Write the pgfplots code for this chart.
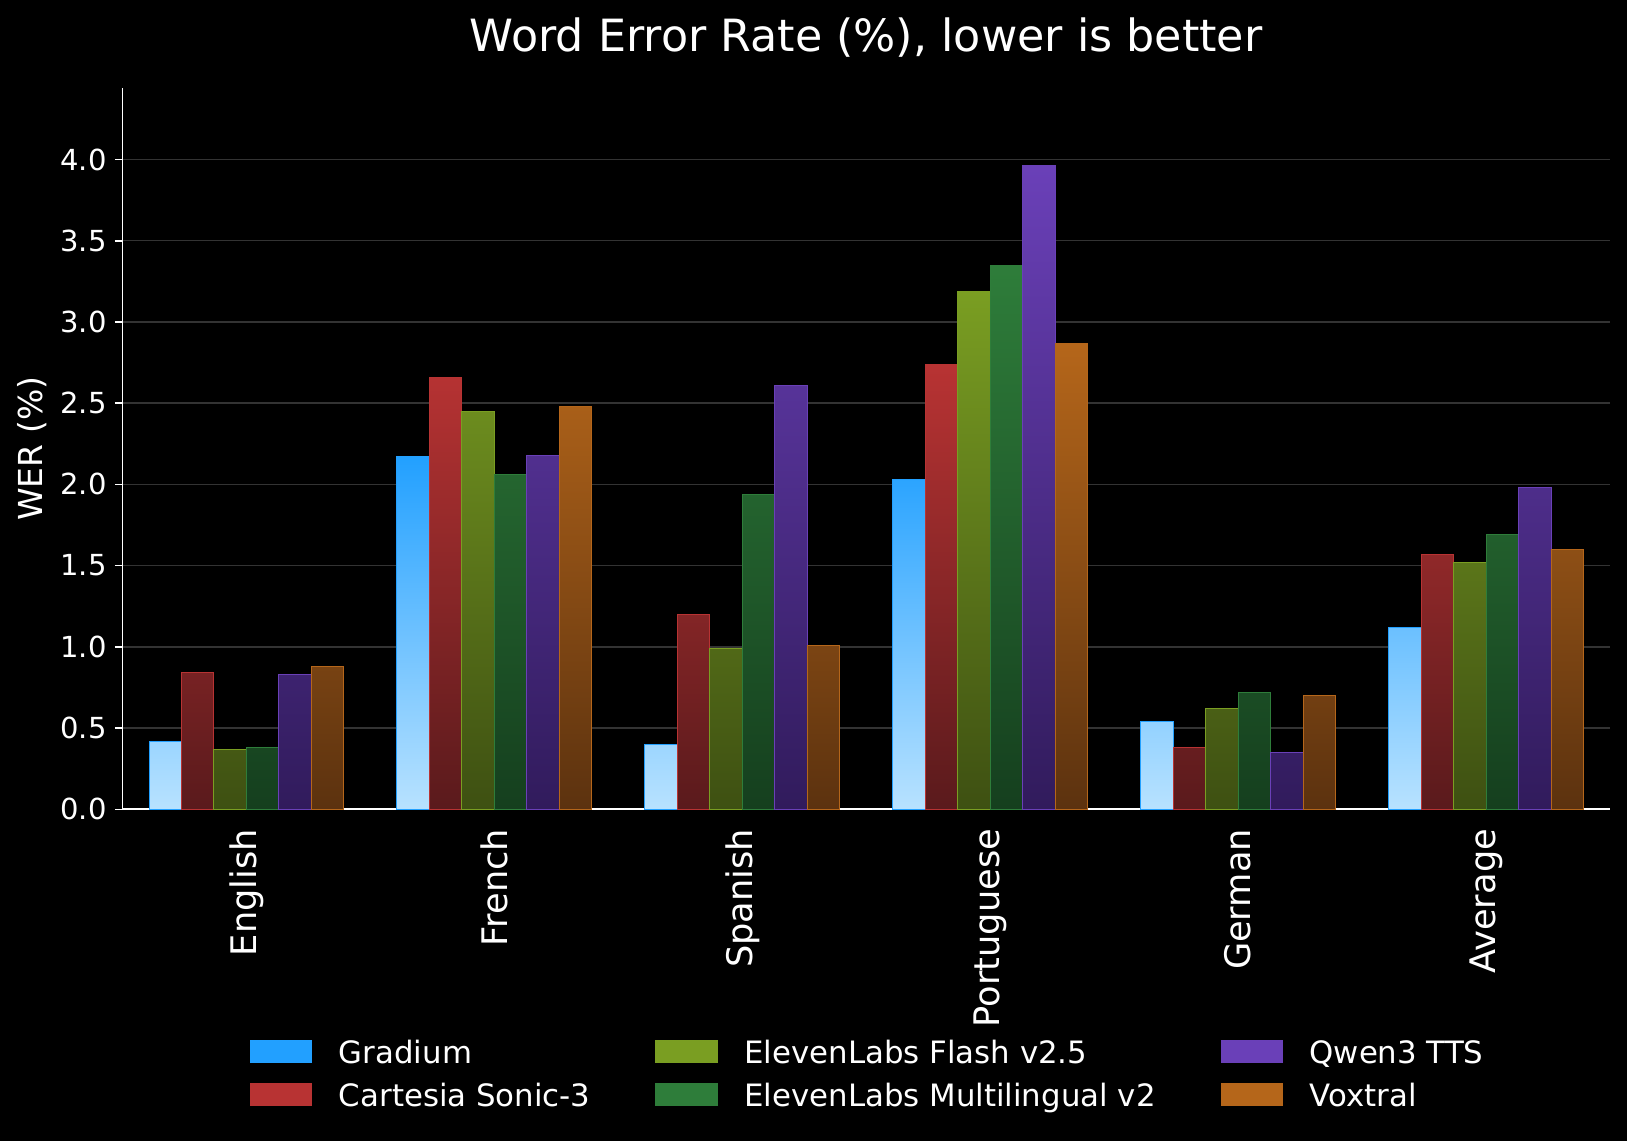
\documentclass[border=0pt]{standalone}
\usepackage{fontspec}
\setmainfont{DejaVu Sans}
\usepackage{pgfplots}
\pgfplotsset{compat=1.18}

\definecolor{cGrad}{HTML}{22A0FF}
\definecolor{cGradB}{HTML}{B8E2FF}
\definecolor{cCart}{HTML}{B83333}
\definecolor{cCartB}{HTML}{5A1A1C}
\definecolor{cFlash}{HTML}{7A9E22}
\definecolor{cFlashB}{HTML}{3E5012}
\definecolor{cMulti}{HTML}{2E7D3A}
\definecolor{cMultiB}{HTML}{153F1E}
\definecolor{cQwen}{HTML}{6A40B8}
\definecolor{cQwenB}{HTML}{311B5C}
\definecolor{cVox}{HTML}{B5661A}
\definecolor{cVoxB}{HTML}{5C320F}
\definecolor{gridgray}{HTML}{333333}

\tikzset{wbar/.style={draw=#1, line width=0.5pt, top color=#1, bottom color=#1B}}

\begin{document}
\begin{tikzpicture}[x=1pt,y=1pt]
\path[use as bounding box, fill=black] (0,0) rectangle (813.5,570.5);
\begin{axis}[
    at={(61.25pt,165.85pt)}, anchor=south west,
    scale only axis, width=743.75pt, height=360.65pt,
    ybar, bar width=0.131,
    xmin=-0.5, xmax=5.5, ymin=0, ymax=4.44,
    xtick={0,1,2,3,4,5},
    xticklabels={English,French,Spanish,Portuguese,German,Average},
    ytick={0,0.5,1,1.5,2,2.5,3,3.5,4},
    axis x line*=bottom, axis y line*=left,
    axis line style={white, line width=0.9pt, -},
    tick align=outside, major tick length=3.85pt,
    major x tick style={draw=none},
    major y tick style={white, line width=0.8pt},
    ymajorgrids, grid style={gridgray, line width=0.75pt},
    yticklabel style={font=\fontsize{14.5}{17}\selectfont, text=white, inner sep=0pt,
        /pgf/number format/.cd, fixed, fixed zerofill, precision=1, assume math mode=true},
    xticklabel style={rotate=90, anchor=east, inner sep=0pt,
        font=\fontsize{17.6}{20}\selectfont, text=white},
    xticklabel shift=5.8pt,
    yticklabel shift=3.9pt,
    title={Word Error Rate (\%), lower is better},
    title style={at={(0.5,1)}, anchor=base, yshift=12pt,
        font=\fontsize{22.2}{26}\selectfont, text=white},
    ylabel={WER (\%)},
    every axis y label/.style={at={(axis description cs:-0.0537,0.5)}, rotate=90,
        anchor=base, font=\fontsize{16.5}{20}\selectfont, text=white},
    legend columns=3,
    legend cell align=left,
    legend image code/.code={\fill[#1] (0pt,-5.5pt) rectangle (31.6pt,6.5pt);},
    legend style={at={(0.5,-0.367)}, anchor=center, draw=none, fill=none,
        text=white, font=\fontsize{15.4}{18}\selectfont,
        nodes={inner sep=0pt, text height=13pt, text depth=1.8pt},
        row sep=6.65pt,
        /tikz/every odd column/.append style={column sep=13pt},
        /tikz/every even column/.append style={column sep=32pt}},
]
\addplot[wbar=cGrad, bar shift=-0.3275, forget plot]
    coordinates {(0,0.42)(1,2.17)(2,0.40)(3,2.03)(4,0.54)(5,1.12)};
\addplot[wbar=cCart, bar shift=-0.1965, forget plot]
    coordinates {(0,0.84)(1,2.66)(2,1.20)(3,2.74)(4,0.38)(5,1.57)};
\addplot[wbar=cFlash, bar shift=-0.0655, forget plot]
    coordinates {(0,0.37)(1,2.45)(2,0.99)(3,3.19)(4,0.62)(5,1.52)};
\addplot[wbar=cMulti, bar shift=0.0655, forget plot]
    coordinates {(0,0.38)(1,2.06)(2,1.94)(3,3.35)(4,0.72)(5,1.69)};
\addplot[wbar=cQwen, bar shift=0.1965, forget plot]
    coordinates {(0,0.83)(1,2.18)(2,2.61)(3,3.96)(4,0.35)(5,1.98)};
\addplot[wbar=cVox, bar shift=0.3275, forget plot]
    coordinates {(0,0.88)(1,2.48)(2,1.01)(3,2.87)(4,0.70)(5,1.60)};

% legend runs row by row, the reference runs column by column
\addlegendimage{fill=cGrad}
\addlegendentry{Gradium}
\addlegendimage{fill=cFlash}
\addlegendentry{ElevenLabs Flash v2.5}
\addlegendimage{fill=cQwen}
\addlegendentry{Qwen3 TTS}
\addlegendimage{fill=cCart}
\addlegendentry{Cartesia Sonic-3}
\addlegendimage{fill=cMulti}
\addlegendentry{ElevenLabs Multilingual v2}
\addlegendimage{fill=cVox}
\addlegendentry{Voxtral}
\end{axis}
\end{tikzpicture}
\end{document}
